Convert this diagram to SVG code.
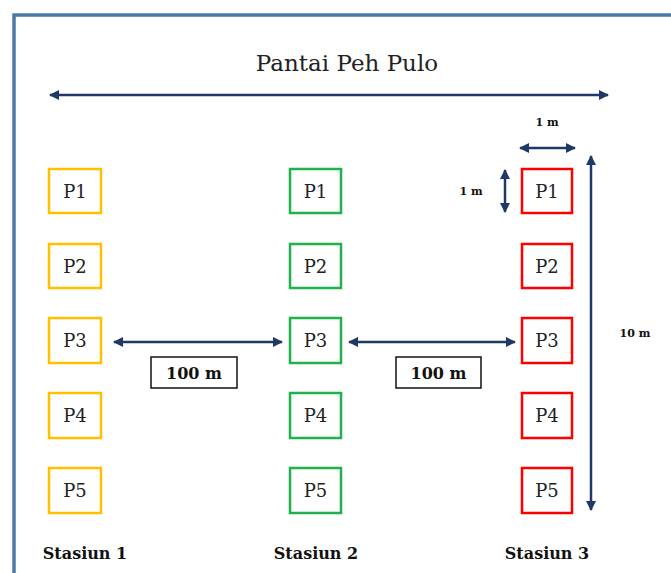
<svg xmlns="http://www.w3.org/2000/svg" width="671" height="573" viewBox="0 0 671 573">
<style>
.box{fill:#fff;stroke-width:2.5}
.y{stroke:#ffc000}
.g{stroke:#1fb14a}
.r{stroke:#ff0000}
.pt{font-family:"DejaVu Serif","Liberation Serif",serif;font-size:18px;fill:#222;text-anchor:middle}
.dim{stroke:#1f3868;stroke-width:2.5;fill:none;marker-start:url(#ah);marker-end:url(#ah)}
.bl{font-family:"DejaVu Serif","Liberation Serif",serif;font-weight:bold;fill:#111;text-anchor:middle}
</style>
<defs>
<marker id="ah" viewBox="0 0 10 10" refX="9" refY="5" markerWidth="4" markerHeight="4" orient="auto-start-reverse" markerUnits="strokeWidth">
<path d="M0,0 L10,5 L0,10 z" fill="#1f3868"/>
</marker>
</defs>
<rect x="0" y="0" width="671" height="573" fill="#fff"/>
<path d="M14,580 V15 H680" fill="none" stroke="#4a7aa8" stroke-width="3.5"/>
<text x="347" y="71" font-family="DejaVu Serif,Liberation Serif,serif" font-size="23" fill="#222" text-anchor="middle">Pantai Peh Pulo</text>
<g id="connectors">
<line class="dim" x1="50" y1="95" x2="608" y2="95"/>
<line class="dim" x1="520" y1="148" x2="575" y2="148"/>
<line class="dim" x1="505" y1="170" x2="505" y2="212"/>
<line class="dim" x1="591" y1="156" x2="591" y2="510"/>
<line class="dim" x1="114" y1="342" x2="282" y2="342"/>
<line class="dim" x1="349" y1="342" x2="515" y2="342"/>
</g>
<text class="bl" x="547" y="126" font-size="11">1 m</text>
<text class="bl" x="471" y="195" font-size="11">1 m</text>
<text class="bl" x="635" y="337" font-size="11">10 m</text>
<g id="label-100a"><rect x="151" y="357" width="86" height="31" fill="#fff" stroke="#111" stroke-width="1.5"/><text class="bl" x="194" y="379" font-size="16">100 m</text></g>
<g id="label-100b"><rect x="396" y="357" width="85" height="31" fill="#fff" stroke="#111" stroke-width="1.5"/><text class="bl" x="438.5" y="379" font-size="16">100 m</text></g>
<g id="s1p1"><rect class="box y" x="49" y="169" width="52" height="44"/><text class="pt" x="75" y="198">P1</text></g>
<g id="s1p2"><rect class="box y" x="49" y="244" width="52" height="44"/><text class="pt" x="75" y="273">P2</text></g>
<g id="s1p3"><rect class="box y" x="49" y="318" width="52" height="45"/><text class="pt" x="75" y="347">P3</text></g>
<g id="s1p4"><rect class="box y" x="49" y="393" width="52" height="45"/><text class="pt" x="75" y="422">P4</text></g>
<g id="s1p5"><rect class="box y" x="49" y="468" width="52" height="45"/><text class="pt" x="75" y="497">P5</text></g>
<g id="s2p1"><rect class="box g" x="290" y="169" width="51" height="44"/><text class="pt" x="315.5" y="198">P1</text></g>
<g id="s2p2"><rect class="box g" x="290" y="244" width="51" height="44"/><text class="pt" x="315.5" y="273">P2</text></g>
<g id="s2p3"><rect class="box g" x="290" y="318" width="51" height="45"/><text class="pt" x="315.5" y="347">P3</text></g>
<g id="s2p4"><rect class="box g" x="290" y="393" width="51" height="45"/><text class="pt" x="315.5" y="422">P4</text></g>
<g id="s2p5"><rect class="box g" x="290" y="468" width="51" height="45"/><text class="pt" x="315.5" y="497">P5</text></g>
<g id="s3p1"><rect class="box r" x="522" y="169" width="50" height="44"/><text class="pt" x="547" y="198">P1</text></g>
<g id="s3p2"><rect class="box r" x="522" y="244" width="50" height="44"/><text class="pt" x="547" y="273">P2</text></g>
<g id="s3p3"><rect class="box r" x="522" y="318" width="50" height="45"/><text class="pt" x="547" y="347">P3</text></g>
<g id="s3p4"><rect class="box r" x="522" y="393" width="50" height="45"/><text class="pt" x="547" y="422">P4</text></g>
<g id="s3p5"><rect class="box r" x="522" y="468" width="50" height="45"/><text class="pt" x="547" y="497">P5</text></g>
<text class="bl" x="85" y="559" font-size="16">Stasiun 1</text>
<text class="bl" x="316" y="559" font-size="16">Stasiun 2</text>
<text class="bl" x="547" y="559" font-size="16">Stasiun 3</text>
</svg>
